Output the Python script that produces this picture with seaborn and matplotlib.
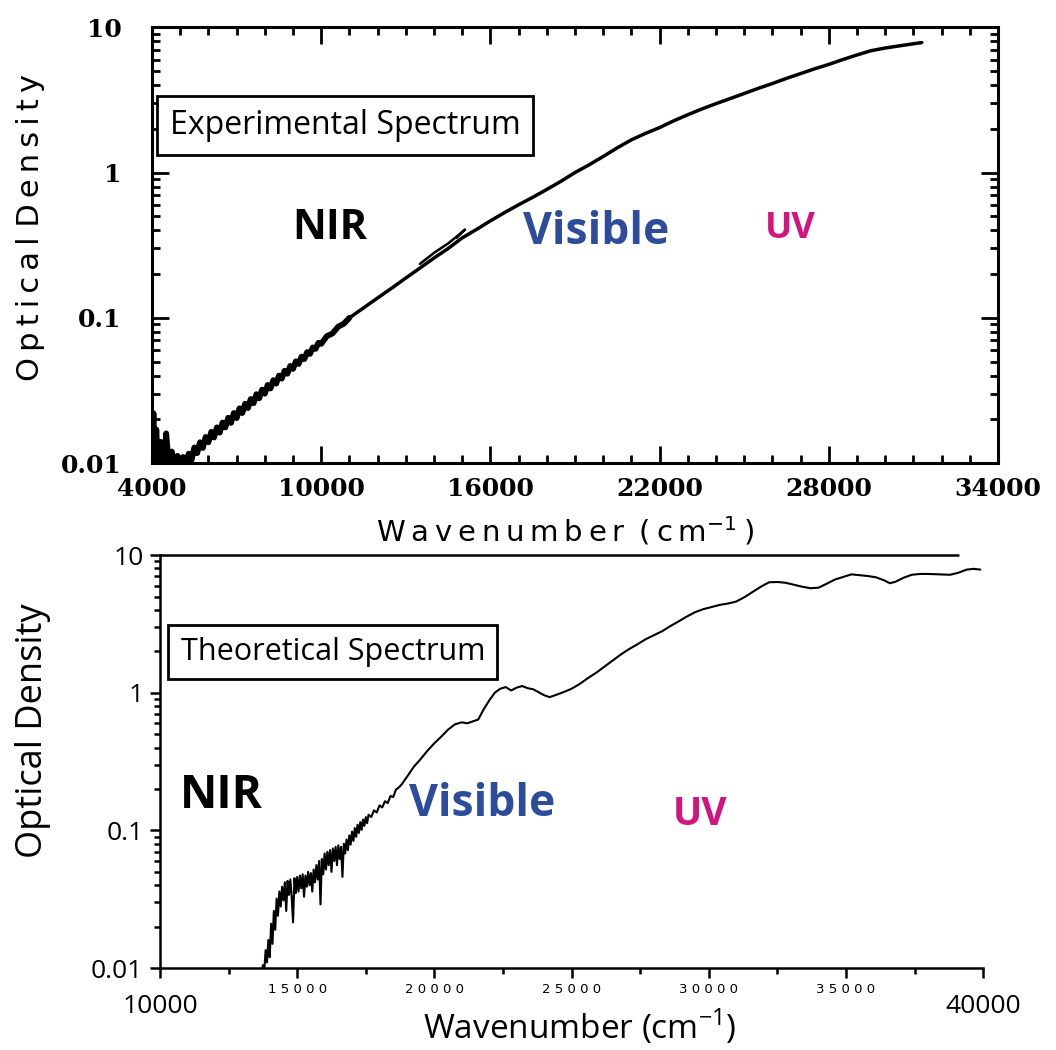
"""
Spectres d'absorption : spectre expérimental (haut) et théorique (bas)
Densité optique en échelle log en fonction du nombre d'onde.
"""
import numpy as np
import matplotlib.pyplot as plt
import matplotlib.transforms as mtransforms
from matplotlib.ticker import LogLocator, MultipleLocator, NullFormatter
import seaborn as sns

# Spectre expérimental : partie bruitée (proche IR) puis partie lisse
exp_noisy_wn = [4000, 4050, 4100, 4150, 4200, 4300, 4400, 4500, 4600, 4700,
                4800, 4900, 5000, 5100, 5200, 5300, 5400, 5500, 5600, 5700,
                5800, 5900, 6000, 6100, 6200, 6300, 6400, 6500, 6600, 6700,
                6800, 6900, 7000, 7100, 7200, 7300, 7400, 7500, 7600, 7700,
                7800, 7900, 8000, 8100, 8200, 8300, 8400, 8500, 8600, 8700,
                8800, 8900, 9000, 9100, 9200, 9300, 9400, 9500, 9600, 9700,
                9800, 9900, 10000, 10200, 10400, 10600, 10800, 11000]
exp_noisy_od = [0.013, 0.022, 0.0095, 0.017, 0.0098, 0.014, 0.0092, 0.016, 0.0094, 0.012,
                0.0093, 0.0112, 0.0096, 0.0110, 0.0099, 0.0116, 0.0105, 0.0128, 0.0117, 0.0139,
                0.0127, 0.0151, 0.0139, 0.0164, 0.0150, 0.0176, 0.0162, 0.0190, 0.0176, 0.0205,
                0.0189, 0.0221, 0.0204, 0.0238, 0.0221, 0.0256, 0.0239, 0.0276, 0.0258, 0.0298,
                0.0279, 0.0320, 0.0300, 0.0345, 0.0326, 0.0372, 0.0352, 0.0400, 0.0381, 0.0432,
                0.0412, 0.0466, 0.0445, 0.0502, 0.0481, 0.0540, 0.0520, 0.0580, 0.0564, 0.0625,
                0.0611, 0.0672, 0.0662, 0.0748, 0.0780, 0.0868, 0.0910, 0.100]
exp_smooth_wn = [11000, 11500, 12000, 12500, 13000, 13500, 14000, 14500, 15000, 15500,
                 16000, 16500, 17000, 17500, 18000, 18500, 19000, 19500, 20000, 20500,
                 21000, 21500, 22000, 22500, 23000, 23500, 24000, 24500, 25000, 25500,
                 26000, 26500, 27000, 27500, 28000, 28500, 29000, 29500, 30000, 30500,
                 31000, 31300]
exp_smooth_od = [0.100, 0.117, 0.137, 0.160, 0.188, 0.220, 0.258, 0.300, 0.355, 0.405,
                 0.465, 0.530, 0.600, 0.675, 0.765, 0.870, 1.00, 1.13, 1.29, 1.48,
                 1.68, 1.86, 2.04, 2.27, 2.50, 2.74, 2.98, 3.23, 3.50, 3.80,
                 4.10, 4.45, 4.80, 5.18, 5.55, 6.00, 6.45, 6.90, 7.20, 7.45,
                 7.70, 7.85]
# second passage du spectre (recouvrement vers 13500-15100 cm-1)
exp_overlap_wn = [13500, 14000, 14500, 14900, 15100, 15000, 14800]
exp_overlap_od = [0.235, 0.280, 0.325, 0.375, 0.405, 0.390, 0.355]

# Spectre théorique
theo_noisy_wn = [13700, 13750, 13800, 13850, 13900, 13950, 14000, 14050, 14100, 14150,
                 14200, 14250, 14300, 14350, 14400, 14450, 14500, 14550, 14600, 14650,
                 14700, 14750, 14800, 14850, 14900, 14950, 15000, 15050, 15100, 15150,
                 15200, 15250, 15300, 15350, 15400, 15450, 15500, 15550, 15600, 15650,
                 15700, 15750, 15800, 15850, 15900, 15950, 16000, 16050, 16100, 16150,
                 16200, 16250, 16300, 16350, 16400, 16450, 16500, 16550, 16600, 16650,
                 16700, 16750, 16800, 16850, 16900, 16950, 17000, 17050, 17100, 17150,
                 17200, 17250, 17300, 17350, 17400, 17450, 17500, 17550, 17600, 17700,
                 17800, 17900, 18000, 18100, 18200, 18300, 18400, 18500, 18600, 18700]
theo_noisy_od = [0.0085, 0.0105, 0.0095, 0.0135, 0.0110, 0.0160, 0.0120, 0.0210, 0.0150, 0.0260,
                 0.0190, 0.0320, 0.0240, 0.0360, 0.0280, 0.0390, 0.0310, 0.0420, 0.0260, 0.0430,
                 0.0340, 0.0440, 0.0330, 0.0215, 0.0450, 0.0350, 0.0460, 0.0360, 0.0470, 0.0380,
                 0.0480, 0.0330, 0.0470, 0.0390, 0.0500, 0.0400, 0.0490, 0.0360, 0.0520, 0.0420,
                 0.0560, 0.0440, 0.0600, 0.0290, 0.0620, 0.0480, 0.0680, 0.0520, 0.0700, 0.0560,
                 0.0720, 0.0500, 0.0740, 0.0600, 0.0760, 0.0560, 0.0780, 0.0620, 0.0760, 0.0460,
                 0.0800, 0.0680, 0.0860, 0.0720, 0.0920, 0.0790, 0.0980, 0.0840, 0.1040, 0.0900,
                 0.1100, 0.0960, 0.1150, 0.1010, 0.1200, 0.1080, 0.1250, 0.1130, 0.1300, 0.1250,
                 0.1400, 0.1350, 0.1520, 0.1470, 0.1630, 0.1580, 0.1780, 0.1750, 0.1980, 0.2050]
theo_smooth_wn = [18800, 19000, 19250, 19500, 19750, 20000, 20250, 20500, 20750, 21000,
                  21200, 21400, 21600, 21800, 22000, 22200, 22400, 22600, 22800, 23000,
                  23200, 23400, 23600, 23800, 24000, 24200, 24400, 24700, 25000, 25300,
                  25600, 25900, 26200, 26500, 26800, 27100, 27400, 27700, 28000, 28300,
                  28600, 28900, 29200, 29500, 29800, 30100, 30400, 30700, 31000, 31300,
                  31600, 31900, 32200, 32500, 32800, 33100, 33400, 33700, 34000, 34300,
                  34600, 34900, 35200, 35500, 35800, 36100, 36400, 36600, 36800, 37100,
                  37400, 37700, 38000, 38400, 38800, 39100, 39400, 39650, 39900]
theo_smooth_od = [0.215, 0.245, 0.29, 0.33, 0.38, 0.43, 0.48, 0.54, 0.59, 0.61,
                  0.60, 0.62, 0.64, 0.76, 0.88, 1.00, 1.07, 1.10, 1.04, 1.09,
                  1.12, 1.08, 1.06, 1.01, 0.96, 0.93, 0.96, 1.01, 1.07, 1.16,
                  1.28, 1.40, 1.55, 1.72, 1.90, 2.08, 2.25, 2.45, 2.62, 2.80,
                  3.05, 3.30, 3.58, 3.85, 4.05, 4.20, 4.35, 4.45, 4.60, 4.95,
                  5.40, 5.90, 6.35, 6.38, 6.30, 6.10, 5.90, 5.75, 5.80, 6.20,
                  6.65, 6.95, 7.25, 7.15, 7.05, 6.90, 6.55, 6.25, 6.40, 6.85,
                  7.20, 7.30, 7.30, 7.25, 7.20, 7.45, 7.85, 7.95, 7.85]

region_labels = ['NIR', 'Visible', 'UV']
region_colors = ['black', '#2d4c9b', '#d2147f']

y_ticks = [0.01, 0.1, 1, 10]
y_ticklabels = ['0.01', '0.1', '1', '10']
top_xticks = [4000, 10000, 16000, 22000, 28000, 34000]
bottom_xticks = [10000, 15000, 20000, 25000, 30000, 35000, 40000]

OUTPUT_IMAGE_NAME = 'out.png'


def spaced(s):
    # texte espacé comme dans la figure d'origine
    return '\u2009'.join(s)


sns.set_theme(style='ticks')
plt.rcParams['font.family'] = ['Open Sans', 'DejaVu Sans']
plt.rcParams['axes.edgecolor'] = 'black'
plt.rcParams['axes.labelcolor'] = 'black'
plt.rcParams['text.color'] = 'black'
plt.rcParams['xtick.color'] = 'black'
plt.rcParams['ytick.color'] = 'black'

fig = plt.figure(figsize=(10.56, 10.50), dpi=100)
ax1 = fig.add_axes([0.144, 0.559, 0.801, 0.415])
ax2 = fig.add_axes([0.1515, 0.078, 0.7795, 0.3933])

# ---------- panneau du haut : expérimental ----------
sns.lineplot(x=exp_noisy_wn, y=exp_noisy_od, ax=ax1, color='black', lw=4.2,
             estimator=None, sort=False)
sns.lineplot(x=exp_smooth_wn, y=exp_smooth_od, ax=ax1, color='black', lw=2.5,
             estimator=None, sort=False)
sns.lineplot(x=exp_overlap_wn, y=exp_overlap_od, ax=ax1, color='black', lw=1.8,
             estimator=None, sort=False)
ax1.set_yscale('log')
ax1.set_xlim(4000, 34000)
ax1.set_ylim(0.01, 10)

serif = 'DejaVu Serif'
ax1.set_xticks(top_xticks, labels=[str(t) for t in top_xticks],
               fontfamily=serif, fontsize=18, fontweight='bold')
ax1.set_yticks(y_ticks, labels=y_ticklabels, fontfamily=serif, fontsize=18,
               fontweight='bold')
ax1.xaxis.set_minor_locator(MultipleLocator(1000))
ax1.yaxis.set_minor_locator(LogLocator(base=10, subs=np.arange(2, 10)))
ax1.yaxis.set_minor_formatter(NullFormatter())
ax1.tick_params(which='both', direction='in', top=True, right=True, width=2)
ax1.tick_params(which='major', length=12)
ax1.tick_params(which='minor', length=6)
ax1.tick_params(axis='x', which='major', pad=10)
ax1.tick_params(axis='y', which='major', pad=22)
for sp in ax1.spines.values():
    sp.set_linewidth(2.2)

ax1.set_xlabel(spaced('Wavenumber') + '\u2009 (\u2009c\u2009m$^{-1}$\u2009)',
               fontfamily='DejaVu Sans', fontsize=21)
ax1.xaxis.set_label_coords(0.488, -0.118)
ax1.set_ylabel(spaced('Optical') + ' ' + spaced('Density'),
               fontfamily='DejaVu Sans', fontsize=22)
ax1.yaxis.set_label_coords(-0.127, 0.54)

ax1.text(0.228, 0.775, 'Experimental Spectrum', transform=ax1.transAxes,
         fontsize=23, ha='center', va='center',
         bbox=dict(boxstyle='square,pad=0.4', fc='white', ec='black', lw=2))
top_pos = [(0.210, 0.539, 30), (0.525, 0.528, 32), (0.755, 0.537, 26)]
for lab, col, (x, y, fs) in zip(region_labels, region_colors, top_pos):
    ax1.text(x, y, lab, transform=ax1.transAxes, color=col, fontsize=fs,
             fontweight='bold', ha='center', va='center')

# ---------- panneau du bas : théorique ----------
sns.lineplot(x=theo_noisy_wn + theo_smooth_wn, y=theo_noisy_od + theo_smooth_od,
             ax=ax2, color='black', lw=1.5, estimator=None, sort=False)
ax2.set_yscale('log')
ax2.set_xlim(10000, 40000)
ax2.set_ylim(0.01, 10)

small_labels = ['' if t in (10000, 40000) else ' '.join(str(t)) for t in bottom_xticks]
ax2.set_xticks(bottom_xticks, labels=small_labels, fontfamily='DejaVu Sans',
               fontsize=9.5)
ax2.xaxis.set_minor_locator(MultipleLocator(2500))
ax2.set_yticks(y_ticks, labels=y_ticklabels, fontsize=19)
ax2.yaxis.set_minor_locator(LogLocator(base=10, subs=np.arange(2, 10)))
ax2.yaxis.set_minor_formatter(NullFormatter())
ax2.tick_params(which='both', direction='out', width=1.8)
ax2.tick_params(which='major', length=7)
ax2.tick_params(which='minor', length=4)
ax2.tick_params(axis='x', which='major', pad=4)
ax2.tick_params(axis='y', which='major', pad=5)
ax2.spines['right'].set_visible(False)
ax2.spines['top'].set_visible(False)
ax2.spines['left'].set_linewidth(1.8)
ax2.spines['bottom'].set_linewidth(1.8)
ax2.axhline(10, xmin=0, xmax=0.97, color='black', lw=1.8, clip_on=False)

trans = mtransforms.blended_transform_factory(ax2.transData, ax2.transAxes)
for t in (bottom_xticks[0], bottom_xticks[-1]):
    ax2.text(t, -0.092, str(t), transform=trans, fontsize=19,
             ha='center', va='center')

ax2.set_xlabel('Wavenumber (cm$^{\\mathregular{-1}}$)', fontsize=24)
ax2.xaxis.set_label_coords(0.51, -0.095)
ax2.set_ylabel('Optical Density', fontsize=26)
ax2.yaxis.set_label_coords(-0.133, 0.575)

ax2.text(0.21, 0.765, 'Theoretical Spectrum', transform=ax2.transAxes,
         fontsize=22, ha='center', va='center',
         bbox=dict(boxstyle='square,pad=0.4', fc='white', ec='black', lw=2))
bottom_pos = [(0.074, 0.419, 33), (0.391, 0.395, 32), (0.656, 0.373, 28)]
for lab, col, (x, y, fs) in zip(region_labels, region_colors, bottom_pos):
    ax2.text(x, y, lab, transform=ax2.transAxes, color=col, fontsize=fs,
             fontweight='bold', ha='center', va='center')

fig.savefig(OUTPUT_IMAGE_NAME, dpi=100)
